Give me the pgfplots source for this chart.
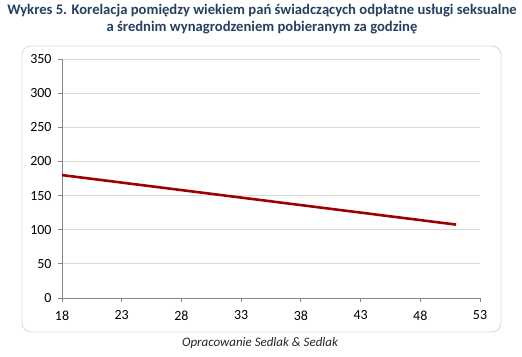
\documentclass[border=0pt]{standalone}
\usepackage{pgfplots}
\pgfplotsset{compat=1.18}
\usepackage{fontspec}
\setmainfont{Carlito}
\definecolor{titleblue}{HTML}{243F60}
\definecolor{linered}{HTML}{A00000}
\definecolor{gridgray}{HTML}{D9D9D9}
\definecolor{axisgray}{HTML}{868686}
\begin{document}
\begin{tikzpicture}[x=1bp,y=1bp]
\path[use as bounding box] (0,0) rectangle (522,356);
\draw[gridgray, line width=0.8bp, rounded corners=9bp] (22,24) rectangle (501,310);
\node[font=\fontsize{14.7}{17}\selectfont\bfseries, text=titleblue, align=center] at (262,336.5)
  {Wykres 5. Korelacja pomiędzy wiekiem pań świadczących odpłatne usługi seksualne\\a średnim wynagrodzeniem pobieranym za godzinę};
\node[font=\fontsize{13}{15}\selectfont\itshape, text=black!85] at (260,13) {Opracowanie Sedlak \& Sedlak};
\begin{axis}[
  at={(62bp,58bp)}, anchor=origin,
  scale only axis, width=418bp, height=239bp,
  xmin=18, xmax=53, ymin=0, ymax=350,
  xtick={18,23,...,53}, ytick={0,50,...,350},
  axis x line*=bottom, axis y line*=left,
  axis line style={axisgray, line width=0.8bp, -},
  ymajorgrids, grid style={gridgray, line width=0.8bp},
  tick style={axisgray, line width=0.8bp},
  tick align=outside, major tick length=4bp,
  ticklabel style={font=\fontsize{14}{16}\selectfont, text=black},
  /pgf/number format/assume math mode=true,
  xticklabel style={yshift=-5bp},
  yticklabel style={xshift=-3bp},
  clip=false,
]
\addplot[linered, line width=2.6bp, no marks] coordinates {(18,180) (51,107.5)};
\end{axis}
\end{tikzpicture}
\end{document}
